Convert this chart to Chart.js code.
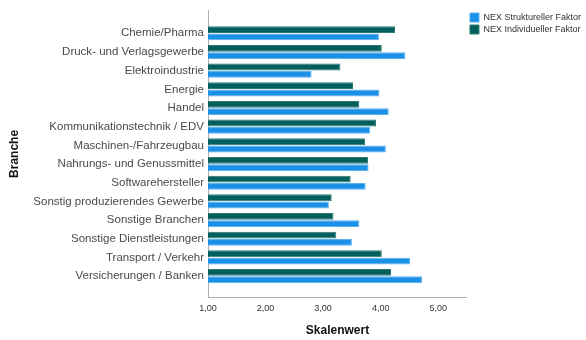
<!DOCTYPE html>
<html>
<head>
<meta charset="utf-8">
<script src="https://cdn.jsdelivr.net/npm/chart.js@4/dist/chart.umd.min.js"></script>
<style>
  html, body { margin: 0; padding: 0; background: #fff; }
  #wrap { width: 586px; height: 340px; }
</style>
</head>
<body>
<div id="wrap"><canvas id="chart" width="586" height="340"></canvas></div>
<script>
const branchen = [
	'Chemie/Pharma',
	'Druck- und Verlagsgewerbe',
	'Elektroindustrie',
	'Energie',
	'Handel',
	'Kommunikationstechnik / EDV',
	'Maschinen-/Fahrzeugbau',
	'Nahrungs- und Genussmittel',
	'Softwarehersteller',
	'Sonstig produzierendes Gewerbe',
	'Sonstige Branchen',
	'Sonstige Dienstleistungen',
	'Transport / Verkehr',
	'Versicherungen / Banken'
];
const individuell = [4.25, 4.02, 3.30, 3.52, 3.63, 3.92, 3.73, 3.78, 3.48, 3.15, 3.18, 3.23, 4.02, 4.18];
const strukturell = [3.97, 4.43, 2.80, 3.98, 4.14, 3.82, 4.09, 3.79, 3.74, 3.10, 3.63, 3.50, 4.51, 4.72];
const xTicks = [1, 2, 3, 4, 5];

const textColor = '#333';
const axisColor = '#b0b0b0';
const fontFamily = 'Liberation Sans, Arial, sans-serif';

const ctx = document.getElementById('chart');

const chart = new Chart(ctx, {
	type: 'bar',
	data: {
		labels: branchen,
		datasets: [{
			label: 'NEX Individueller Faktor',
			data: individuell,
			backgroundColor: '#015e5b',
			borderColor: '#2f7a77',
			borderWidth: 1
		}, {
			label: 'NEX Struktureller Faktor',
			data: strukturell,
			backgroundColor: '#1a90e6',
			borderColor: '#5cb0ee',
			borderWidth: 1
		}]
	},
	options: {
		indexAxis: 'y',
		responsive: false,
		animation: false,
		categoryPercentage: 0.78,
		barPercentage: 0.94,
		layout: { padding: { top: 10, right: -5, left: 0, bottom: 0 } },
		plugins: {
			tooltip: { enabled: false },
			legend: {
				position: 'right',
				align: 'start',
				reverse: true,
				labels: {
					boxWidth: 9,
					boxHeight: 9,
					padding: 3,
					color: textColor,
					font: { family: fontFamily, size: 9 }
				}
			}
		},
		scales: {
			x: {
				type: 'linear',
				min: 1,
				max: 5.5,
				afterBuildTicks: s => { s.ticks = xTicks.map(v => ({ value: v })); },
				afterFit: s => { s.height = 43; },
				grid: { display: false, drawTicks: false },
				border: { display: true, color: axisColor, width: 1 },
				ticks: {
					padding: 6,
					color: textColor,
					font: { family: fontFamily, size: 9 },
					callback: v => v.toFixed(2).replace('.', ',')
				},
				title: {
					display: true,
					text: 'Skalenwert',
					color: '#111',
					padding: { top: 0, bottom: 2 },
					font: { family: fontFamily, size: 12, weight: 'bold' }
				}
			},
			y: {
				type: 'category',
				offset: true,
				// etwas mehr Luft oben und unten als Chart.js von sich aus gibt
				afterBuildTicks: s => { s._startValue = -1.2; s._valueRange = branchen.length + 1.32; },
				afterFit: s => { s.width = 208; },
				grid: { display: false, drawTicks: false },
				border: { display: true, color: axisColor, width: 1 },
				ticks: {
					padding: 4,
					color: '#4a4a4a',
					autoSkip: false,
					font: { family: fontFamily, size: 11.5 }
				},
				title: {
					display: true,
					text: 'Branche',
					color: '#111',
					padding: { top: 7, bottom: 0 },
					font: { family: fontFamily, size: 12, weight: 'bold' }
				}
			}
		}
	}
});
</script>
</body>
</html>
